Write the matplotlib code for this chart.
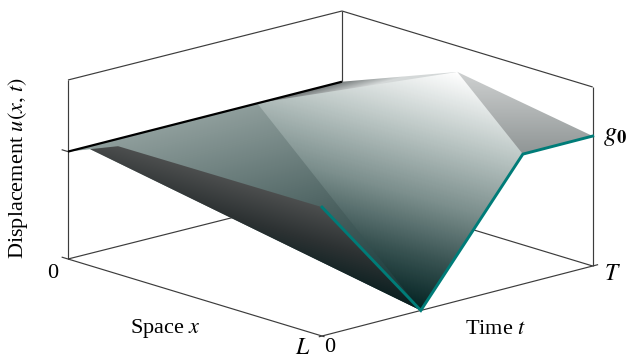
import numpy as np
from matplotlib import pyplot as plt
from matplotlib.colors import LinearSegmentedColormap
from matplotlib.patches import Polygon

W, H = 629, 358

# surface vertices (x/L, t/T, u)
p0 = (0.0, 0.0, 0.6)
p1 = (0.0, 1.0, 0.605)
crease = (0.0, 0.69, 0.605)
q1 = (0.197, 0.0, 0.715)
q2 = (0.03, 0.053, 0.606)
e0 = (1.0, 0.0, 0.72)
valley = (1.0, 0.365, 0.0)
e2 = (1.0, 0.742, 0.726)
e3 = (1.0, 1.0, 0.726)
peak = (0.46, 1.0, 0.855)
# points hidden under the next face, so no gap shows between faces
under_light = (0.5, 0.8, 0.7)
under_right = (0.9, 1.0, 0.68)

# gradient stops of each face
medium_pos = [0.0, 0.5, 0.75, 1.0]
medium_col = ['#8f9e9c', '#4c6261', '#2c4a4a', '#123232']
dark_pos = [0.0, 0.5, 1.0]
dark_col = ['#4d4f4f', '#2d3233', '#0a1f20']
light_pos = [0.0, 0.28, 0.55, 0.8, 1.0]
light_col = ['#ffffff', '#bcc7c5', '#7c8f8d', '#35504f', '#052424']
right_pos = [0.0, 1.0]
right_col = ['#cfd1d1', '#8f9595']
sliver_pos = [0.0, 1.0]
sliver_col = ['#747a7a', '#d4d8d8']

# floor corners on the page, (x, t) = (0,0), (1,0), (1,1), (0,1)
c00 = np.array([68.0, 259.0])
c10 = np.array([322.0, 336.0])
c11 = np.array([592.7, 266.0])
c01 = np.array([342.0, 190.0])
box_h = 179.0


def proj(x, t, u=0.0):
    p = (1-x)*(1-t)*c00 + x*(1-t)*c10 + x*t*c11 + (1-x)*t*c01
    return p[0], p[1] - box_h*u


def face(ax, verts, a, b, pos, col, yy, xx):
    pts = [proj(*v) for v in verts]
    a = np.array(a, dtype=float)
    b = np.array(b, dtype=float)
    d = b - a
    s = ((xx - a[0])*d[0] + (yy - a[1])*d[1]) / (d @ d)
    cmap = LinearSegmentedColormap.from_list('f', list(zip(pos, col)))
    im = ax.imshow(s, cmap=cmap, vmin=0, vmax=1, extent=(0, W, H, 0),
                   interpolation='bilinear', aspect='auto', zorder=3)
    im.set_clip_path(Polygon(pts, closed=True, transform=ax.transData))


def seg(ax, p, q, **kw):
    a = proj(*p)
    b = proj(*q)
    ax.plot([a[0], b[0]], [a[1], b[1]], solid_capstyle='butt', **kw)


plt.rcParams['font.family'] = ['Liberation Serif', 'DejaVu Serif']
plt.rcParams['mathtext.fontset'] = 'stix'

fig = plt.figure(figsize=(W/100, H/100), dpi=100)
ax = fig.add_axes([0, 0, 1, 1])
ax.set_xlim(0, W)
ax.set_ylim(H, 0)
ax.axis('off')

# box lines, under the surface
lk = dict(color='#3c3c3c', lw=0.85, zorder=1)
seg(ax, (-0.025, 0, 0), (1.01, 0, 0), **lk)
seg(ax, (1, -0.012, 0), (1, 1.02, 0), **lk)
seg(ax, (0, 0, 0), (0, 1, 0), **lk)
seg(ax, (0, 1, 0), (1, 1, 0), **lk)
seg(ax, (0, 0, 1), (0, 1, 1), **lk)
seg(ax, (0, 1, 1), (1, 1, 1), **lk)
seg(ax, (0, 0, 0), (0, 0, 1), **lk)
seg(ax, (0, 1, 0), (0, 1, 1), **lk)
seg(ax, (1, 1, 0), (1, 1, 1), **lk)
seg(ax, (-0.025, 0, 0.6), (0, 0, 0.6), **lk)

xx, yy = np.meshgrid(np.arange(W) + 0.5, np.arange(H) + 0.5)

pk = proj(*peak)
cr = proj(*crease)
top = proj(*p1)

face(ax, [p0, crease, under_light, valley, q2], cr, (317, 336), medium_pos, medium_col, yy, xx)
face(ax, [q1, e0, valley, q2], (220, 176), (200, 243), dark_pos, dark_col, yy, xx)
face(ax, [crease, p1, peak, under_light], top, (top[0] + 3, top[1] + 11), sliver_pos, sliver_col, yy, xx)
face(ax, [crease, peak, under_right, e2, valley], pk, (392.5, 300.5), light_pos, light_col, yy, xx)
face(ax, [peak, e3, e2], pk, (pk[0], 154), right_pos, right_col, yy, xx)

ax.set_xlim(0, W)
ax.set_ylim(H, 0)

# black line at x = 0 and the teal edge at x = L
seg(ax, p0, p1, color='black', lw=1.6, zorder=5)
teal = [e0, valley, e2, e3]
tx = [proj(*v)[0] for v in teal]
ty = [proj(*v)[1] for v in teal]
ax.plot(tx, ty, color='#007c78', lw=2.1, zorder=6, solid_joinstyle='miter')

fs = 16
ax.text(18, 168, r'Displacement $u(x,\,t)$', rotation=90, ha='center', va='center', fontsize=fs)
ax.text(165, 329, r'Space $x$', ha='center', va='center', fontsize=fs)
ax.text(496, 329, r'Time $t$', ha='center', va='center', fontsize=fs)
ax.text(53, 274, '0', ha='center', va='center', fontsize=fs)
ax.text(330, 348, '0', ha='center', va='center', fontsize=fs)
ax.text(303, 348, r'$L$', ha='center', va='center', fontsize=fs + 1)
ax.text(612, 275, r'$T$', ha='center', va='center', fontsize=fs + 1)
ax.text(615, 137, r'$g_{\mathbf{0}}$', ha='center', va='center', fontsize=fs + 3)

fig.savefig('out.png', dpi=100)
